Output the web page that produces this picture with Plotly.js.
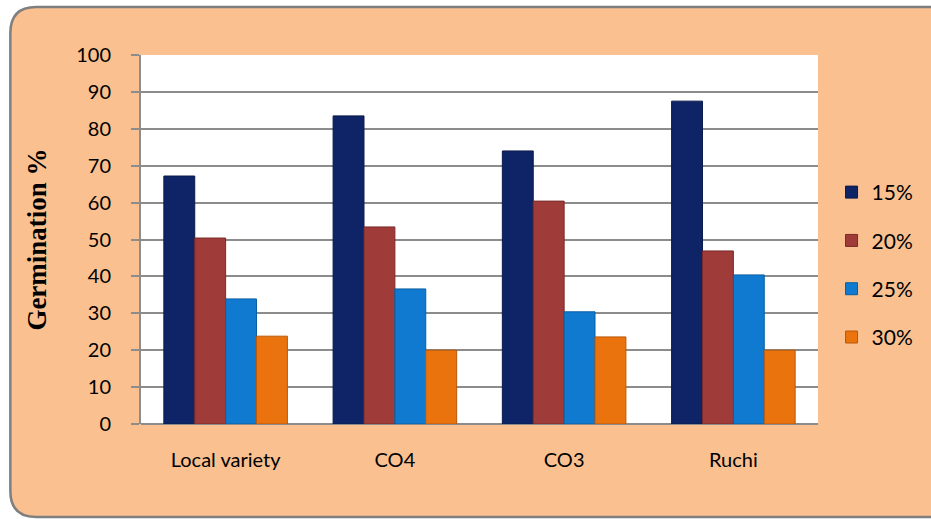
<!DOCTYPE html>
<html>
<head>
<meta charset="utf-8">
<script src="https://cdn.plot.ly/plotly-3.0.1.min.js"></script>
<style>
  html, body { margin: 0; padding: 0; background: #ffffff; overflow: hidden; }
  #chart { width: 931px; height: 519px; }
</style>
</head>
<body>
<div id="chart"></div>
<script>
// Germination percentage of four varieties at four concentrations
const varieties = ["Local variety", "CO4", "CO3", "Ruchi"];
const levels = ["15%", "20%", "25%", "30%"];

const germ15 = [67.2, 83.5, 74.0, 87.5];
const germ20 = [50.4, 53.4, 60.4, 46.9];
const germ25 = [33.9, 36.6, 30.4, 40.4];
const germ30 = [23.8, 20.0, 23.6, 20.0];

const yTicks = [0, 10, 20, 30, 40, 50, 60, 70, 80, 90, 100];

const seriesValues = [germ15, germ20, germ25, germ30];
const fills = ["#0f2466", "#9f3b39", "#0f7ad0", "#ea730e"];
const edges = ["#0a1a4a", "#7a2a28", "#0a5ea2", "#b9580a"];

const traces = seriesValues.map((vals, i) => ({
  type: "bar",
  name: levels[i],
  x: varieties,
  y: vals,
  legendgroup: "g" + i,
  marker: { color: fills[i], line: { color: edges[i], width: 1 } },
  hoverinfo: "x+y+name"
}));

const W = 931, H = 519;
const margin = { l: 141, r: 106, t: 55, b: 95 };
const tickFont = "Lato, Open Sans, Liberation Sans, sans-serif";

const layout = {
  width: W,
  height: H,
  margin: margin,
  paper_bgcolor: "#ffffff",
  plot_bgcolor: "rgba(0,0,0,0)",
  barmode: "group",
  bargap: 0.27,
  bargroupgap: 0,
  font: { family: tickFont, color: "#000000" },
  xaxis: {
    type: "category",
    tickfont: { size: 20, family: tickFont },
    ticks: "",
    showline: false,
    showgrid: false,
    zeroline: false,
    automargin: false,
    ticklabelstandoff: 22
  },
  yaxis: {
    range: [0, 100],
    tickvals: yTicks,
    ticktext: yTicks.map(String),
    tickfont: { size: 20, family: tickFont },
    ticks: "outside",
    ticklen: 8,
    tickcolor: "#8c8c8c",
    tickwidth: 2,
    ticklabelstandoff: 16,
    showline: true,
    linecolor: "#8c8c8c",
    linewidth: 2,
    showgrid: true,
    gridcolor: "#8c8c8c",
    gridwidth: 2,
    zeroline: true,
    zerolinecolor: "#8c8c8c",
    zerolinewidth: 2,
    automargin: false,
    title: {
      text: "<b>Germination %</b>",
      font: { size: 27, family: "Liberation Serif, Times New Roman, serif" },
      standoff: 22
    }
  },
  legend: {
    x: 1.02,
    xanchor: "left",
    y: 0.683,
    yanchor: "top",
    bgcolor: "rgba(0,0,0,0)",
    font: { size: 21, family: tickFont },
    traceorder: "grouped",
    tracegroupgap: 18,
    itemwidth: 30
  },
  shapes: [],
  showlegend: true
};

// Peach card with rounded corners behind the chart; its right side runs past the page edge
(function () {
  const pw = W - margin.l - margin.r, ph = H - margin.t - margin.b;
  const px = v => (v - margin.l) / pw;
  const py = v => (H - margin.b - v) / ph;
  const x0 = 9, x1 = W + 60, y0 = 7, y1 = H - 2, r = 26;
  const path = [
    `M${px(x0 + r)},${py(y0)}`,
    `L${px(x1 - r)},${py(y0)}`,
    `Q${px(x1)},${py(y0)} ${px(x1)},${py(y0 + r)}`,
    `L${px(x1)},${py(y1 - r)}`,
    `Q${px(x1)},${py(y1)} ${px(x1 - r)},${py(y1)}`,
    `L${px(x0 + r)},${py(y1)}`,
    `Q${px(x0)},${py(y1)} ${px(x0)},${py(y1 - r)}`,
    `L${px(x0)},${py(y0 + r)}`,
    `Q${px(x0)},${py(y0)} ${px(x0 + r)},${py(y0)}`,
    "Z"
  ].join(" ");
  layout.shapes.push({
    type: "path", xref: "paper", yref: "paper", layer: "below",
    path: path, fillcolor: "#fac090", line: { color: "#7f7f7f", width: 2.5 }
  });
  layout.shapes.push({
    type: "rect", xref: "paper", yref: "paper", layer: "below",
    x0: 0, x1: 1, y0: 0, y1: 1, fillcolor: "#ffffff", line: { width: 0 }
  });
})();

Plotly.newPlot("chart", traces, layout, { displayModeBar: false, staticPlot: true });
</script>
</body>
</html>
